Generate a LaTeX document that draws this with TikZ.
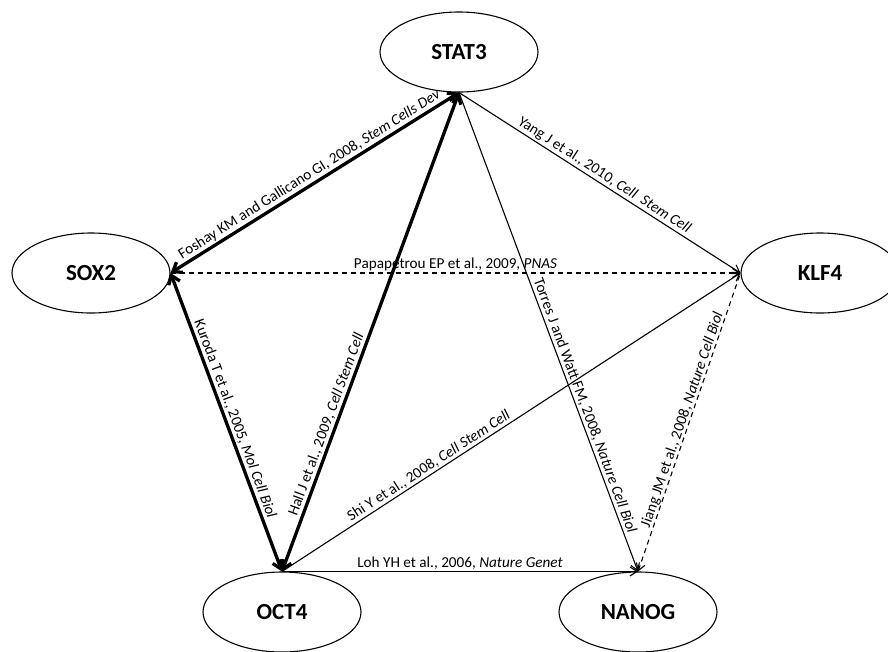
\documentclass[tikz,border=0pt]{standalone}
\usepackage{fontspec}
\setmainfont{Carlito}
\usetikzlibrary{shapes.geometric,arrows.meta}
\begin{document}
\begin{tikzpicture}
[x=1pt,y=-1pt,
g/.style={ellipse,draw,line width=1.1pt,minimum width=158pt,minimum height=80pt,font=\fontsize{23}{23}\selectfont\bfseries},
t/.style={font=\fontsize{15.2}{16}\selectfont,sloped,above,inner sep=1.5pt},
thk/.style={line width=3.3pt,>={Straight Barb[length=8pt,width=12pt]}},
tn/.style={line width=1.1pt,>={Straight Barb[length=7pt,width=9pt]}},
dsh/.style={dash pattern=on 5pt off 4pt}]
\useasboundingbox (0,0) rectangle (888,651);
\node(stat3) at (459,52)[g]{STAT3};\node(sox2) at (91,273)[g]{SOX2};\node(klf4) at (820,273)[g]{KLF4};
\node(oct4) at (282,612)[g]{OCT4};\node(nanog) at (638,612)[g]{NANOG};
\draw[thk,<->](sox2.east)--node[t]{Foshay KM and Gallicano GI, 2008, \textit{Stem Cells Dev}}(stat3.south);
\draw[thk,<->](sox2.east)--node[t]{Kuroda T et al., 2005, \textit{Mol Cell Biol}}(oct4.north);
\draw[thk,<->](oct4.north)--node[t,pos=.3]{Hall J et al., 2009, \textit{Cell Stem Cell}}(stat3.south);
\draw[tn,->](stat3.south)--node[t,pos=.66]{Torres J and Watt FM, 2008, \textit{Nature Cell Biol}}(nanog.north);
\draw[tn,->](stat3.south)--node[t]{Yang J et al., 2010, \textit{Cell\ \ Stem Cell}}(klf4.west);
\draw[tn,->,dsh](sox2.east)--node[t]{Papapetrou EP et al., 2009, \textit{PNAS}}(klf4.west);
\draw[tn,->](oct4.north)--node[t,pos=.33]{Shi Y et al., 2008, \textit{Cell Stem Cell}}(klf4.west);
\draw[tn,->](oct4.north)--node[t]{Loh YH et al., 2006, \textit{Nature Genet}}(nanog.north);
\draw[tn,<-,dsh](nanog.north)--node[t,inner sep=0pt]{Jiang JM et al., 2008, \textit{Nature Cell Biol}}(klf4.west);
\end{tikzpicture}
\end{document}
